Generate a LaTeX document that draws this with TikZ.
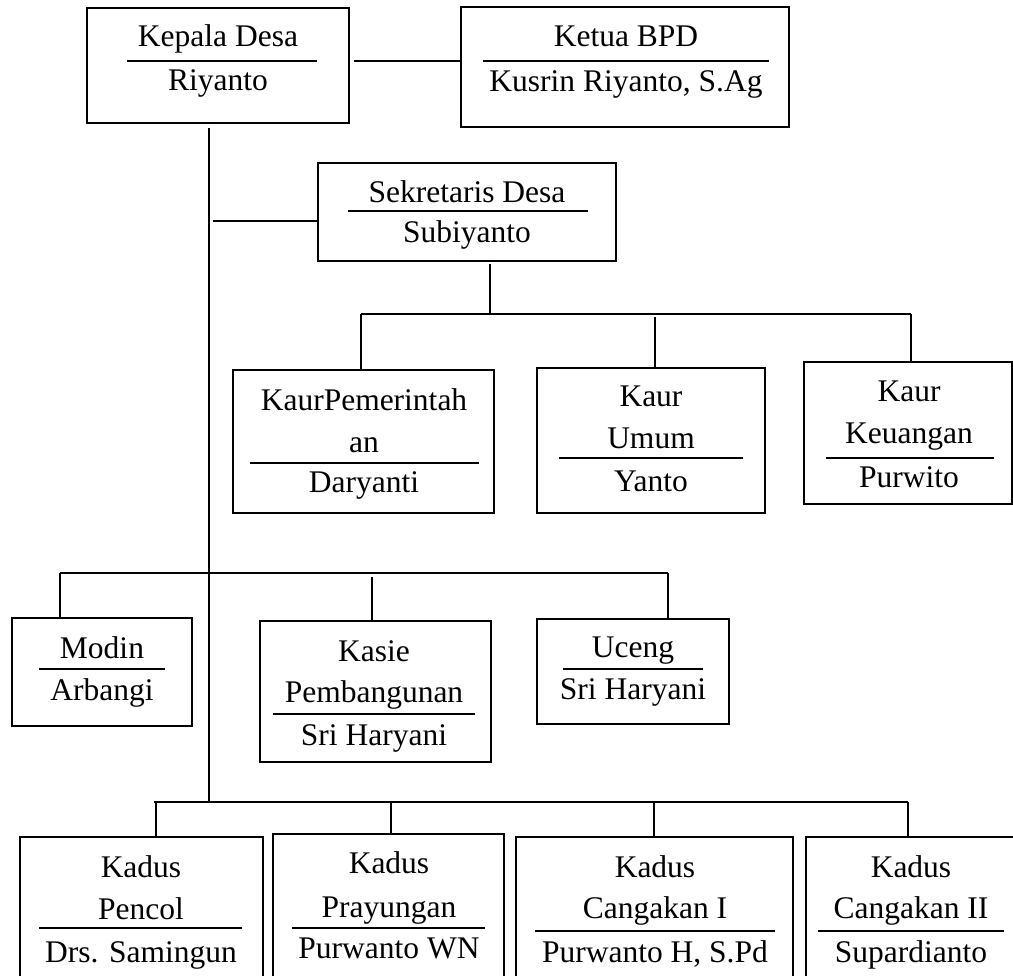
\documentclass[tikz,border=0pt]{standalone}
\usepackage{fontspec}
\setmainfont{Liberation Serif}
\usetikzlibrary{fit}
\tikzset{
  orgbox/.style={draw, line width=1.6pt, inner sep=0pt},
  txt/.style={anchor=base, inner sep=0pt, font=\fontsize{31.5}{38}\selectfont},
  conn/.style={line width=1.6pt},
  sepline/.style={line width=1.8pt}
}
\begin{document}
\begin{tikzpicture}[x=1pt,y=-1pt]
\useasboundingbox (0,0) rectangle (1013,976);

% ---------- boxes ----------
\node[orgbox, fit={(87,8) (349,123)}] (kepala) {};
\node[orgbox, fit={(461,7) (789,127)}] (ketua) {};
\node[orgbox, fit={(318,163) (616,261)}] (sek) {};
\node[orgbox, fit={(233,370) (494,513)}] (pem) {};
\node[orgbox, fit={(537,368) (765,513)}] (umum) {};
\node[orgbox, fit={(804,362) (1012,504)}] (keu) {};
\node[orgbox, fit={(12,618) (192,726)}] (modin) {};
\node[orgbox, fit={(260,621) (491,762)}] (kasie) {};
\node[orgbox, fit={(537,619) (729,724)}] (uceng) {};
\node[orgbox, fit={(20,837) (263,1000)}] (pencol) {};
\node[orgbox, fit={(273,834) (504,1000)}] (pray) {};
\node[orgbox, fit={(516,837) (793,1000)}] (cang1) {};
\node[orgbox, fit={(806,837) (1018,1000)}] (cang2) {};

% ---------- texts ----------
\node[txt] (kepala-a) at (218,47) {Kepala Desa};
\node[txt] (kepala-b) at (218,91) {Riyanto};
\draw[sepline] (127,61) -- (317,61);

\node[txt] (ketua-a) at (626,47) {Ketua BPD};
\node[txt] (ketua-b) at (626,92) {Kusrin Riyanto, S.Ag};
\draw[sepline] (483,61) -- (769,61);

\node[txt] (sek-a) at (467,203) {Sekretaris Desa};
\node[txt] (sek-b) at (467,243) {Subiyanto};
\draw[sepline] (348,211) -- (588,211);

\node[txt] (pem-a) at (364,411) {KaurPemerintah};
\node[txt] (pem-b) at (364,453) {an};
\node[txt] (pem-c) at (364,493) {Daryanti};
\draw[sepline] (250,463) -- (479,463);

\node[txt] (umum-a) at (651,407) {Kaur};
\node[txt] (umum-b) at (651,449) {Umum};
\node[txt] (umum-c) at (651,491) {Yanto};
\draw[sepline] (559,458) -- (743,458);

\node[txt] (keu-a) at (909,402) {Kaur};
\node[txt] (keu-b) at (909,444) {Keuangan};
\node[txt] (keu-c) at (909,487) {Purwito};
\draw[sepline] (826,458) -- (994,458);

\node[txt] (modin-a) at (102,658) {Modin};
\node[txt] (modin-b) at (102,700) {Arbangi};
\draw[sepline] (39,669) -- (165,669);

\node[txt] (kasie-a) at (374,661) {Kasie};
\node[txt] (kasie-b) at (374,702) {Pembangunan};
\node[txt] (kasie-c) at (374,745) {Sri Haryani};
\draw[sepline] (273,714) -- (475,714);

\node[txt] (uceng-a) at (633,657) {Uceng};
\node[txt] (uceng-b) at (633,699) {Sri Haryani};
\draw[sepline] (563,669) -- (703,669);

\node[txt] (pencol-a) at (141,877) {Kadus};
\node[txt] (pencol-b) at (141,919) {Pencol};
\node[txt] (pencol-c) at (141,962) {Drs. Samingun};
\draw[sepline] (39,928) -- (242,928);

\node[txt] (pray-a) at (389,873) {Kadus};
\node[txt] (pray-b) at (389,917) {Prayungan};
\node[txt] (pray-c) at (389,958) {Purwanto WN};
\draw[sepline] (292,928) -- (485,928);

\node[txt] (cang1-a) at (655,877) {Kadus};
\node[txt] (cang1-b) at (655,918) {Cangakan I};
\node[txt] (cang1-c) at (655,962) {Purwanto H, S.Pd};
\draw[sepline] (535,931) -- (775,931);

\node[txt] (cang2-a) at (911,877) {Kadus};
\node[txt] (cang2-b) at (911,918) {Cangakan II};
\node[txt] (cang2-c) at (911,962) {Supardianto};
\draw[sepline] (818,931) -- (1004,931);

% ---------- connectors ----------
\coordinate (yb) at (354,61);
\draw[conn] (yb) -- (ketua.west |- yb);

\coordinate (tkTop) at (209,128);
\coordinate (tkBot) at (209,802);
\draw[conn] (tkTop) -- (tkBot);

\coordinate (sekJ) at (213,221);
\draw[conn] (sekJ) -- (sek.west |- sekJ);

\coordinate (sekD) at (490,264);
\coordinate (bus1L) at (361,314);
\coordinate (bus1R) at (911,314);
\draw[conn] (sekD) -- (sekD |- bus1L);
\draw[conn] (bus1L) -- (bus1R);
\draw[conn] (bus1L) -- (bus1L |- pem.north);
\coordinate (umJ) at (655,317);
\draw[conn] (umJ) -- (umJ |- umum.north);
\draw[conn] (bus1R) -- (bus1R |- keu.north);

\coordinate (bus2L) at (60,573);
\coordinate (bus2R) at (668,573);
\draw[conn] (bus2L) -- (bus2R);
\draw[conn] (bus2L) -- (bus2L |- modin.north);
\coordinate (kaJ) at (372,577);
\draw[conn] (kaJ) -- (kaJ |- kasie.north);
\draw[conn] (bus2R) -- (bus2R |- uceng.north);

\coordinate (bus3L) at (154,802);
\coordinate (bus3R) at (908,802);
\draw[conn] (bus3L) -- (bus3R);
\coordinate (d1) at (156,802);
\coordinate (d2) at (391,802);
\coordinate (d3) at (654,802);
\draw[conn] (d1) -- (d1 |- pencol.north);
\draw[conn] (d2) -- (d2 |- pray.north);
\draw[conn] (d3) -- (d3 |- cang1.north);
\draw[conn] (bus3R) -- (bus3R |- cang2.north);
\end{tikzpicture}
\end{document}
